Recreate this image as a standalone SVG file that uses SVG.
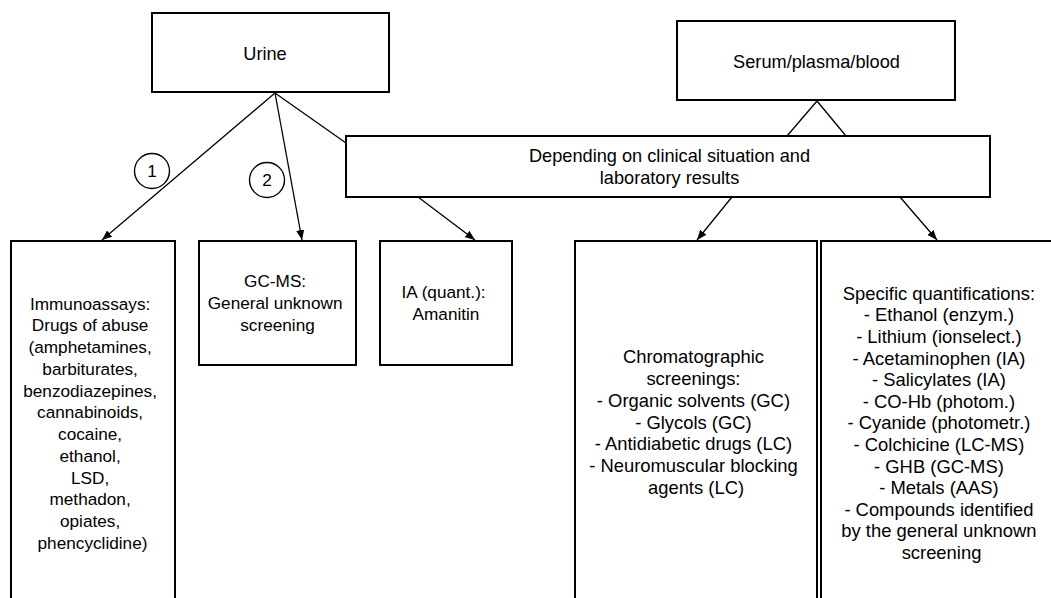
<svg xmlns="http://www.w3.org/2000/svg" width="1051" height="598" viewBox="0 0 1051 598">
<defs>
<marker id="arr" markerUnits="userSpaceOnUse" markerWidth="10" markerHeight="8" refX="10" refY="4" orient="auto">
<path d="M0,0 L10,4 L0,8 z" fill="#000"/>
</marker>
<style>
.box{fill:#fff;stroke:#000;stroke-width:2}
.t{font-family:"Liberation Sans",Arial,sans-serif;font-size:17.2px;fill:#000;text-anchor:middle}
.h{font-size:18.2px}
.b{font-size:18.4px}
.c{fill:none;stroke:#000;stroke-width:1.3}
.a{marker-end:url(#arr)}
.circ{fill:#fff;stroke:#000;stroke-width:1.4}
</style>
</defs>
<rect width="1051" height="598" fill="#fff"/>
<g id="connectors">
<line class="c a" x1="275" y1="93" x2="102" y2="240"/>
<line class="c a" x1="275" y1="93" x2="302" y2="240"/>
<line class="c" x1="275" y1="93" x2="346" y2="143"/>
<line class="c" x1="817" y1="101" x2="787" y2="136"/>
<line class="c" x1="817" y1="101" x2="846" y2="136"/>
<line class="c a" x1="418" y1="197" x2="475" y2="240"/>
<line class="c a" x1="732" y1="197" x2="697" y2="240"/>
<line class="c a" x1="900" y1="197" x2="937" y2="240"/>
</g>
<g id="label1">
<circle class="circ" cx="152" cy="171" r="17.5"/>
<text class="t" x="152" y="177">1</text>
</g>
<g id="label2">
<circle class="circ" cx="267" cy="180" r="17.5"/>
<text class="t" x="267" y="186">2</text>
</g>
<g id="urine">
<rect class="box" x="152" y="13" width="237" height="79"/>
<text class="t h" x="265" y="59.5">Urine</text>
</g>
<g id="serum">
<rect class="box" x="677" y="21" width="278" height="79"/>
<text class="t h" x="816.5" y="67.5">Serum/plasma/blood</text>
</g>
<g id="depending">
<rect class="box" x="346" y="136" width="644" height="61"/>
<text class="t h" x="669.5" y="161.5">Depending on clinical situation and</text>
<text class="t h" x="669.5" y="183.5">laboratory results</text>
</g>
<g id="immunoassays">
<rect class="box" x="11" y="241" width="164" height="370"/>
<text class="t">
<tspan x="92.5" y="309.5">Immunoassays:</tspan>
<tspan x="92.5" y="331.3">Drugs of abuse</tspan>
<tspan x="92.5" y="353">(amphetamines,</tspan>
<tspan x="92.5" y="374.8">barbiturates,</tspan>
<tspan x="92.5" y="396.5">benzodiazepines,</tspan>
<tspan x="92.5" y="418.3">cannabinoids,</tspan>
<tspan x="92.5" y="440">cocaine,</tspan>
<tspan x="92.5" y="461.8">ethanol,</tspan>
<tspan x="92.5" y="483.6">LSD,</tspan>
<tspan x="92.5" y="505.3">methadon,</tspan>
<tspan x="92.5" y="527.1">opiates,</tspan>
<tspan x="92.5" y="548.8">phencyclidine)</tspan>
</text>
</g>
<g id="gcms">
<rect class="box" x="199" y="241" width="157" height="124"/>
<text class="t">
<tspan x="277.5" y="286.8">GC-MS:</tspan>
<tspan x="277.5" y="308.8">General unknown</tspan>
<tspan x="277.5" y="330.8">screening</tspan>
</text>
</g>
<g id="amanitin">
<rect class="box" x="380" y="241" width="132" height="124"/>
<text class="t">
<tspan x="446" y="298.3">IA (quant.):</tspan>
<tspan x="446" y="319.5">Amanitin</tspan>
</text>
</g>
<g id="chromatographic">
<rect class="box" x="575" y="241" width="242" height="370"/>
<text class="t b">
<tspan x="696" y="363.2">Chromatographic</tspan>
<tspan x="696" y="385">screenings:</tspan>
<tspan x="696" y="406.7">- Organic solvents (GC)</tspan>
<tspan x="696" y="428.5">- Glycols (GC)</tspan>
<tspan x="696" y="450.3">- Antidiabetic drugs (LC)</tspan>
<tspan x="696" y="472.1">- Neuromuscular blocking</tspan>
<tspan x="696" y="493.8">agents (LC)</tspan>
</text>
</g>
<g id="specific">
<rect class="box" x="821" y="241" width="245" height="370"/>
<text class="t b">
<tspan x="941.5" y="299.8">Specific quantifications:</tspan>
<tspan x="941.5" y="321.4">- Ethanol (enzym.)</tspan>
<tspan x="941.5" y="343">- Lithium (ionselect.)</tspan>
<tspan x="941.5" y="364.6">- Acetaminophen (IA)</tspan>
<tspan x="941.5" y="386.2">- Salicylates (IA)</tspan>
<tspan x="941.5" y="407.8">- CO-Hb (photom.)</tspan>
<tspan x="941.5" y="429.4">- Cyanide (photometr.)</tspan>
<tspan x="941.5" y="451">- Colchicine (LC-MS)</tspan>
<tspan x="941.5" y="472.6">- GHB (GC-MS)</tspan>
<tspan x="941.5" y="494.2">- Metals (AAS)</tspan>
<tspan x="941.5" y="515.8">- Compounds identified</tspan>
<tspan x="941.5" y="537.4">by the general unknown</tspan>
<tspan x="941.5" y="559">screening</tspan>
</text>
</g>
</svg>
